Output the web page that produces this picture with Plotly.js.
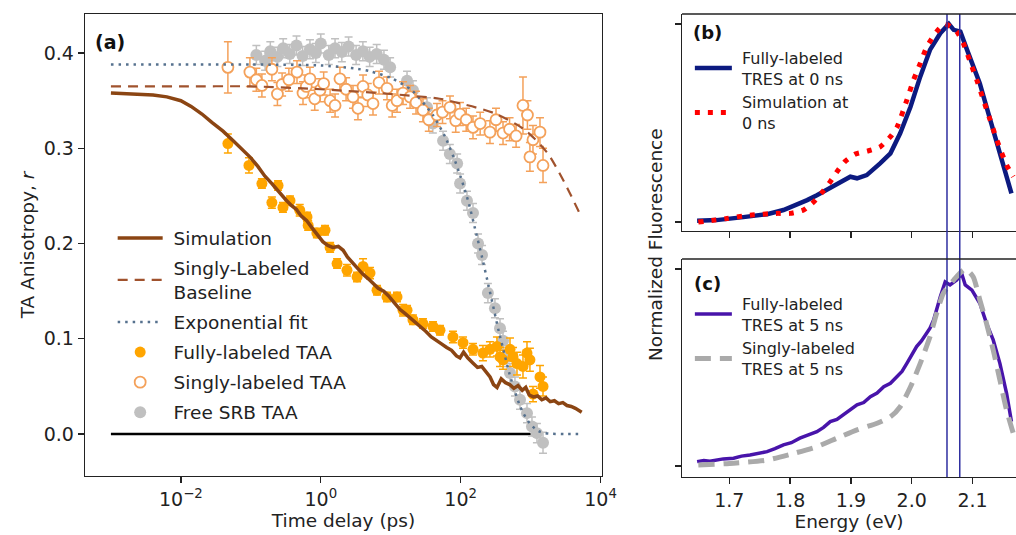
<!DOCTYPE html>
<html>
<head>
<meta charset="utf-8">
<script src="https://cdn.plot.ly/plotly-3.0.1.min.js"></script>
<style>html,body{margin:0;padding:0;background:#fff;overflow:hidden}</style>
</head>
<body>
<div id="chart" style="width:1016px;height:535px"></div>
<script>
// ---------- Panel (a): TA anisotropy ----------
const simT = [0.001,0.002,0.004,0.0063,0.01,0.014,0.02,0.028,0.04,0.056,0.079,0.1,0.126,0.158,0.2,0.25,0.316,0.38,0.447,0.525,0.63,0.76,0.89,1.07,1.26,1.48,1.78,2.09,2.4,2.82,3.31,3.98,4.79,5.62,6.61,7.94,9.33,11.2,13.5,15.8,19.1,22.4,26.3,31.6,38,44.7,52.5,63.1,74.1,87.1,97.7,110,126,148,174,200,229,263,295,331,380,437,501,575,661,759,851,955,1096,1259,1445,1660,1905,2188,2512,2884,3311,3802,4365,5012,5370];
const simR = [0.358,0.357,0.356,0.354,0.350,0.344,0.336,0.327,0.318,0.308,0.298,0.290,0.281,0.271,0.263,0.254,0.246,0.240,0.236,0.229,0.224,0.216,0.210,0.202,0.198,0.196,0.197,0.193,0.186,0.180,0.175,0.168,0.163,0.158,0.153,0.150,0.145,0.138,0.131,0.127,0.122,0.117,0.113,0.108,0.102,0.099,0.095,0.091,0.088,0.082,0.080,0.086,0.080,0.075,0.070,0.071,0.065,0.060,0.052,0.049,0.058,0.054,0.052,0.048,0.051,0.046,0.049,0.041,0.039,0.040,0.036,0.038,0.034,0.035,0.032,0.033,0.030,0.029,0.027,0.024,0.023];

const baseT = [0.001,0.01,0.1,1,10,50,100,300,800,1700,3000,5300];
const baseR = [0.365,0.365,0.365,0.362,0.357,0.352,0.347,0.337,0.320,0.296,0.265,0.228];

const fitT = [0.001,0.01,0.1,1,3,5,10,20,40,60,80,100,130,160,200,250,300,350,400,500,600,700,800,1000,1300,1600,2000,3000,5000];
const fitR = [0.388,0.388,0.388,0.387,0.384,0.381,0.374,0.361,0.335,0.312,0.290,0.270,0.243,0.216,0.187,0.156,0.130,0.108,0.091,0.063,0.044,0.030,0.021,0.010,0.003,0.001,0.0003,0,0];

const zeroT = [0.001,1000];
const zeroR = [0,0];

const fullT = [0.047,0.094,0.144,0.20,0.245,0.288,0.363,0.50,0.635,0.66,0.88,1.15,1.36,1.71,2.37,3.30,4.02,5.06,6.37,8.85,12.3,15.0,17.1,20.8,28.9,40.2,50.6,77.6,108,150,208,262,330,365,403,507,560,638,777,887,977,1081,1361,1503];
const fullR = [0.305,0.282,0.263,0.243,0.261,0.238,0.245,0.235,0.228,0.219,0.211,0.214,0.196,0.179,0.172,0.165,0.176,0.169,0.151,0.144,0.144,0.130,0.130,0.120,0.116,0.113,0.109,0.102,0.096,0.089,0.085,0.089,0.092,0.081,0.078,0.089,0.081,0.074,0.071,0.085,0.078,0.042,0.060,0.050];
const fullE = [0.010,0.008,0.005,0.006,0.005,0.005,0.005,0.006,0.005,0.005,0.005,0.005,0.005,0.005,0.006,0.005,0.008,0.006,0.005,0.005,0.005,0.006,0.005,0.005,0.005,0.005,0.005,0.006,0.006,0.006,0.008,0.008,0.010,0.010,0.010,0.012,0.010,0.012,0.012,0.012,0.012,0.008,0.012,0.010];

const singT = [0.047,0.097,0.12,0.144,0.20,0.24,0.28,0.35,0.457,0.557,0.62,0.70,0.82,0.975,1.1,1.36,1.6,1.88,2.3,2.89,3.4,4.02,4.7,5.58,6.8,8.85,10.5,12.3,15,18.9,23,28.9,35,45.8,55,70.3,85,97.7,120,150,190,262,320,403,500,620,777,900,977,1080,1360,1503];
const singR = [0.385,0.380,0.372,0.366,0.383,0.357,0.367,0.372,0.380,0.358,0.365,0.373,0.352,0.361,0.368,0.350,0.345,0.373,0.362,0.354,0.342,0.365,0.356,0.347,0.369,0.363,0.345,0.350,0.358,0.354,0.348,0.340,0.330,0.335,0.338,0.343,0.329,0.336,0.330,0.322,0.326,0.317,0.330,0.316,0.320,0.313,0.345,0.335,0.291,0.309,0.317,0.282];
const singE = [0.027,0.015,0.012,0.012,0.012,0.012,0.012,0.012,0.012,0.012,0.012,0.012,0.012,0.012,0.012,0.012,0.012,0.012,0.012,0.012,0.012,0.012,0.012,0.012,0.012,0.012,0.012,0.012,0.012,0.012,0.012,0.012,0.012,0.012,0.012,0.012,0.012,0.012,0.012,0.012,0.012,0.012,0.012,0.012,0.012,0.012,0.030,0.015,0.015,0.015,0.015,0.018];

const freeT = [0.12,0.16,0.19,0.24,0.29,0.36,0.45,0.55,0.7,0.85,1.0,1.3,1.6,2.0,2.5,3.2,4.0,5.0,6.3,8.0,9.8,17.1,20.8,33,40,56,70,89,98,123,150,177,202,245,309,365,403,459,507,597,705,887,1045,1230,1503];
const freeR = [0.398,0.392,0.402,0.396,0.405,0.399,0.408,0.397,0.404,0.400,0.410,0.398,0.405,0.401,0.407,0.398,0.402,0.396,0.399,0.393,0.385,0.371,0.361,0.343,0.326,0.308,0.294,0.284,0.263,0.245,0.232,0.200,0.188,0.148,0.132,0.111,0.098,0.081,0.064,0.050,0.036,0.022,0.008,0.001,-0.009];
const freeE = [0.010,0.010,0.010,0.010,0.010,0.010,0.010,0.010,0.010,0.010,0.010,0.010,0.010,0.010,0.010,0.010,0.010,0.010,0.010,0.010,0.010,0.010,0.010,0.010,0.010,0.010,0.010,0.010,0.010,0.010,0.010,0.010,0.010,0.010,0.010,0.010,0.010,0.010,0.010,0.010,0.010,0.010,0.010,0.010,0.011];

const logTickVals = [0.01,1,100,10000];
const logTickText = ['10<sup>−2</sup>','10<sup>0</sup>','10<sup>2</sup>','10<sup>4</sup>'];
const rTickVals = [0,0.1,0.2,0.3,0.4];
const rTickText = ['0.0','0.1','0.2','0.3','0.4'];

// ---------- Panel (b): TRES at 0 ns ----------
const b_fullE = [1.647,1.679,1.723,1.762,1.789,1.805,1.828,1.844,1.866,1.882,1.899,1.910,1.926,1.948,1.965,1.981,1.998,2.014,2.030,2.047,2.061,2.069,2.080,2.091,2.101,2.112,2.123,2.134,2.145,2.156,2.164];
const b_fullI = [0.007,0.010,0.025,0.040,0.061,0.081,0.111,0.136,0.173,0.195,0.229,0.221,0.237,0.296,0.347,0.448,0.582,0.734,0.869,0.953,1.000,0.970,0.961,0.869,0.784,0.700,0.582,0.465,0.347,0.229,0.145];
const b_simE = [1.649,1.696,1.734,1.778,1.800,1.822,1.839,1.852,1.866,1.877,1.890,1.907,1.929,1.948,1.965,1.976,1.992,2.003,2.014,2.025,2.041,2.055,2.074,2.085,2.096,2.107,2.118,2.129,2.140,2.156,2.167];
const b_simI = [0.000,0.018,0.035,0.044,0.044,0.061,0.103,0.148,0.204,0.254,0.305,0.343,0.360,0.380,0.431,0.481,0.616,0.717,0.801,0.885,0.961,1.000,0.961,0.902,0.810,0.717,0.616,0.515,0.414,0.288,0.229];

// ---------- Panel (c): TRES at 5 ns ----------
const c_fullE = [1.647,1.658,1.668,1.679,1.690,1.707,1.720,1.734,1.748,1.762,1.775,1.789,1.802,1.816,1.830,1.844,1.855,1.866,1.877,1.888,1.899,1.910,1.921,1.932,1.943,1.954,1.965,1.976,1.984,1.992,2.000,2.008,2.016,2.025,2.030,2.036,2.041,2.047,2.055,2.063,2.074,2.082,2.088,2.099,2.112,2.123,2.134,2.145,2.156,2.164];
const c_fullI = [0.022,0.028,0.024,0.030,0.036,0.039,0.050,0.056,0.064,0.073,0.088,0.107,0.118,0.141,0.158,0.174,0.196,0.225,0.236,0.259,0.282,0.310,0.322,0.352,0.370,0.402,0.420,0.453,0.480,0.521,0.560,0.606,0.635,0.673,0.700,0.741,0.800,0.859,0.935,0.919,0.944,0.978,0.919,0.893,0.826,0.724,0.640,0.521,0.369,0.225];
const c_singE = [1.649,1.707,1.762,1.806,1.844,1.877,1.910,1.943,1.965,1.981,1.998,2.014,2.030,2.041,2.052,2.069,2.088,2.101,2.112,2.123,2.134,2.145,2.156,2.167];
const c_singI = [0.005,0.014,0.030,0.064,0.098,0.141,0.183,0.217,0.250,0.301,0.402,0.521,0.656,0.775,0.877,0.944,1.000,0.961,0.843,0.724,0.589,0.437,0.284,0.166];

const peakLines = [2.058, 2.079];
const energyTickVals = [1.7,1.8,1.9,2.0,2.1];
const energyTickText = ['1.7','1.8','1.9','2.0','2.1'];

const FONT = 'DejaVu Sans, Liberation Sans, sans-serif';
const INK = '#222222';
const SP = '\u00a0';

const traces = [
  // (a) markers first, lines on top
  {x: zeroT, y: zeroR, xaxis:'x', yaxis:'y', mode:'lines', line:{color:'#000000', width:2.5}, showlegend:false, hoverinfo:'skip'},
  {x: freeT, y: freeR, xaxis:'x', yaxis:'y', mode:'markers', name:SP+'Free SRB TAA', legend:'legend', legendgroup:'g6', legendrank:6,
   marker:{color:'#c0c0c0', size:12}, error_y:{type:'data', array:freeE, visible:true, color:'#c0c0c0', thickness:1.5, width:4}},
  {x: fullT, y: fullR, xaxis:'x', yaxis:'y', mode:'markers', name:SP+'Fully-labeled TAA', legend:'legend', legendgroup:'g4', legendrank:4,
   marker:{color:'#ffa500', size:11}, error_y:{type:'data', array:fullE, visible:true, color:'#ffa500', thickness:1.5, width:4}},
  {x: singT, y: singR, xaxis:'x', yaxis:'y', mode:'markers', name:SP+'Singly-labeled TAA', legend:'legend', legendgroup:'g5', legendrank:5,
   marker:{color:'#ffffff', size:11, line:{color:'#f4a15a', width:1.8}}, error_y:{type:'data', array:singE, visible:true, color:'#f4a15a', thickness:1.5, width:4}},
  {x: fitT, y: fitR, xaxis:'x', yaxis:'y', mode:'lines', name:SP+'Exponential fit', legend:'legend', legendgroup:'g3', legendrank:3,
   line:{color:'#56718e', width:2.5, dash:'2.5px,5px', shape:'spline', smoothing:0.6}},
  {x: baseT, y: baseR, xaxis:'x', yaxis:'y', mode:'lines', name:SP+'Singly-Labeled<br>'+SP+'Baseline', legend:'legend', legendgroup:'g2', legendrank:2,
   line:{color:'#a0522d', width:2.2, dash:'10px,7px', shape:'spline', smoothing:0.8}},
  {x: simT, y: simR, xaxis:'x', yaxis:'y', mode:'lines', name:SP+'Simulation', legend:'legend', legendgroup:'g1', legendrank:1,
   line:{color:'#8b4513', width:3.5}},
  // (b)
  {x: b_fullE, y: b_fullI, xaxis:'x2', yaxis:'y2', mode:'lines', name:SP+'Fully-labeled<br>'+SP+'TRES at 0 ns', legend:'legend2',
   line:{color:'#0c1a80', width:4.5}},
  {x: b_simE, y: b_simI, xaxis:'x2', yaxis:'y2', mode:'lines', name:SP+'Simulation at<br>'+SP+'0 ns', legend:'legend2',
   line:{color:'#ff0000', width:5, dash:'5px,8px', shape:'spline', smoothing:0.6}},
  // (c)
  {x: c_fullE, y: c_fullI, xaxis:'x3', yaxis:'y3', mode:'lines', name:SP+'Fully-labeled<br>'+SP+'TRES at 5 ns', legend:'legend3',
   line:{color:'#4814aa', width:3.5}},
  {x: c_singE, y: c_singI, xaxis:'x3', yaxis:'y3', mode:'lines', name:SP+'Singly-labeled<br>'+SP+'TRES at 5 ns', legend:'legend3',
   line:{color:'#aaaaaa', width:5, dash:'16px,9px', shape:'spline', smoothing:0.6}}
];

const axCommon = {showgrid:false, zeroline:false, ticks:'outside', ticklen:6, tickwidth:1.3, tickcolor:INK,
  showline:true, linecolor:INK, linewidth:1.3, tickfont:{family:FONT, size:19, color:INK}, automargin:false, fixedrange:true};

const shapes = [];
peakLines.forEach(v => shapes.push({type:'line', xref:'x3', yref:'paper', x0:v, x1:v, y0:0.1084, y1:0.9738, line:{color:'#2e2ea0', width:1.5}, layer:'above'}));
// top frame lines of panels (b) and (c) (figure is cropped at the right)
shapes.push({type:'line', xref:'paper', yref:'paper', x0:0.6713, x1:1.0, y0:0.9738, y1:0.9738, line:{color:INK, width:1.3}});
shapes.push({type:'line', xref:'paper', yref:'paper', x0:0.6713, x1:1.0, y0:0.5159, y1:0.5159, line:{color:INK, width:1.3}});

const legendCommon = {bgcolor:'rgba(0,0,0,0)', borderwidth:0, xanchor:'left', yanchor:'top', valign:'middle', itemclick:false, itemdoubleclick:false};

const layout = {
  width:1016, height:535,
  margin:{l:0, r:0, t:0, b:0},
  paper_bgcolor:'#ffffff', plot_bgcolor:'#ffffff',
  font:{family:FONT, size:18, color:INK},
  showlegend:true,
  xaxis: Object.assign({}, axCommon, {type:'log', domain:[0.0837,0.5925], range:[-3.37,4.02], anchor:'y', mirror:true,
    tickvals:logTickVals, ticktext:logTickText,
    title:{text:'Time delay (ps)', font:{family:FONT, size:18.5, color:INK}, standoff:2}}),
  yaxis: Object.assign({}, axCommon, {domain:[0.1103,0.9738], range:[-0.044,0.441], anchor:'x', mirror:true,
    tickvals:rTickVals, ticktext:rTickText,
    title:{text:'TA Anisotropy, <i>r</i>', font:{family:FONT, size:18.5, color:INK}, standoff:4}}),
  xaxis2: Object.assign({}, axCommon, {domain:[0.6713,1.0], range:[1.6222,2.1715], anchor:'y2',
    tickvals:energyTickVals, showticklabels:false}),
  yaxis2: Object.assign({}, axCommon, {domain:[0.5682,0.9738], range:[-0.045,1.05], anchor:'x2',
    tickvals:[0,1], showticklabels:false}),
  xaxis3: Object.assign({}, axCommon, {domain:[0.6713,1.0], range:[1.6222,2.1715], anchor:'y3',
    tickvals:energyTickVals, ticktext:energyTickText,
    title:{text:'Energy (eV)', font:{family:FONT, size:18.5, color:INK}, standoff:2}}),
  yaxis3: Object.assign({}, axCommon, {domain:[0.1084,0.5159], range:[-0.056,1.051], anchor:'x3',
    tickvals:[0,1], showticklabels:false}),
  legend: Object.assign({}, legendCommon, {x:0.1109, y:0.59, tracegroupgap:3, font:{family:FONT, size:18.5, color:INK}, itemwidth:45}),
  legend2: Object.assign({}, legendCommon, {x:0.679, y:0.924, tracegroupgap:0, font:{family:FONT, size:16, color:INK}, itemwidth:37}),
  legend3: Object.assign({}, legendCommon, {x:0.679, y:0.4643, tracegroupgap:0, font:{family:FONT, size:16, color:INK}, itemwidth:37}),
  annotations:[
    {text:'<b>(a)</b>', xref:'paper', yref:'paper', x:110/1016, y:(535-42)/535, xanchor:'center', yanchor:'middle', showarrow:false, font:{family:FONT, size:19, color:'#111'}},
    {text:'<b>(b)</b>', xref:'paper', yref:'paper', x:707/1016, y:(535-33)/535, xanchor:'center', yanchor:'middle', showarrow:false, font:{family:FONT, size:18, color:'#111'}},
    {text:'<b>(c)</b>', xref:'paper', yref:'paper', x:707/1016, y:(535-283)/535, xanchor:'center', yanchor:'middle', showarrow:false, font:{family:FONT, size:18, color:'#111'}},
    {text:'Normalized Fluorescence', xref:'paper', yref:'paper', x:655/1016, y:(535-245)/535, xanchor:'center', yanchor:'middle', showarrow:false, textangle:-90, font:{family:FONT, size:18.5, color:INK}}
  ],
  shapes: shapes
};

Plotly.newPlot('chart', traces, layout, {staticPlot:true, displayModeBar:false});
</script>
</body>
</html>
